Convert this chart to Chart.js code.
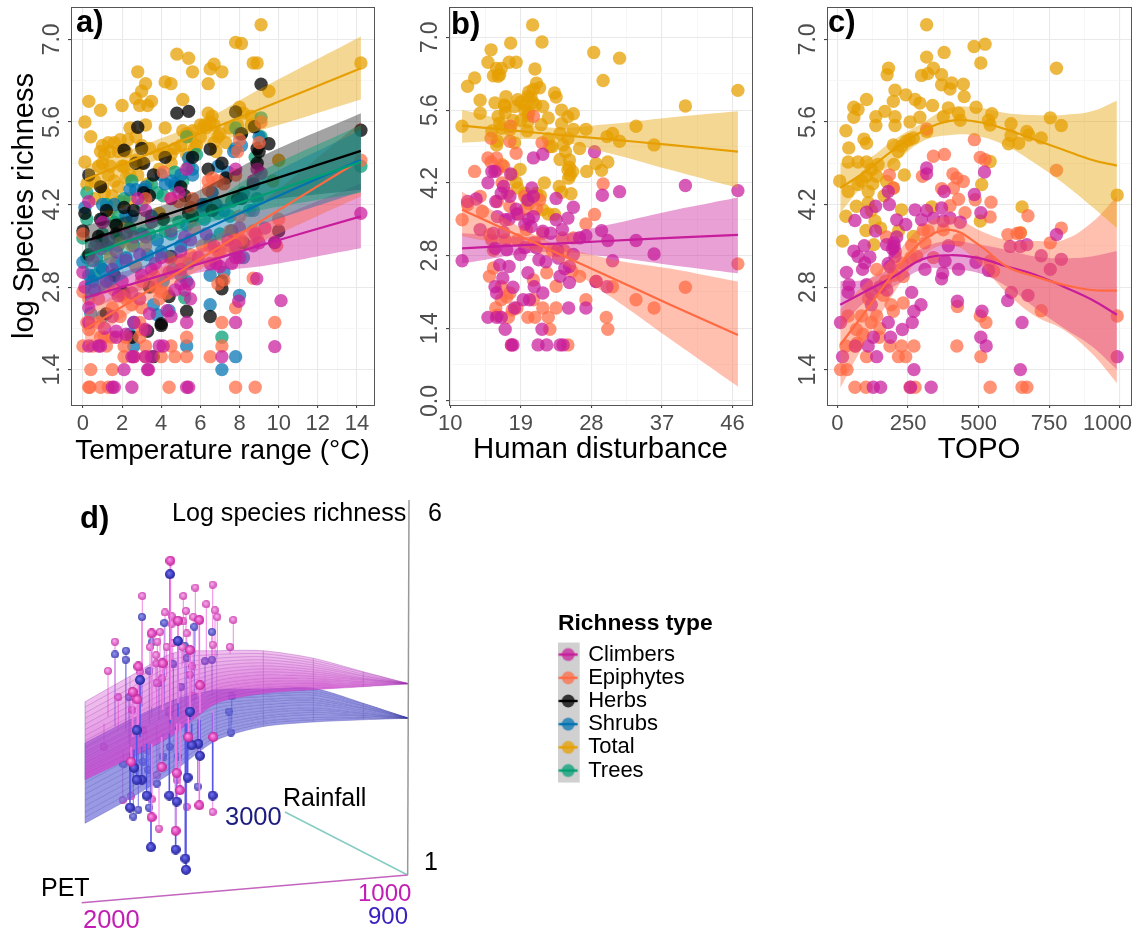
<!DOCTYPE html>
<html>
<head>
<meta charset="utf-8">
<title>Richness panels</title>
<script src="https://cdn.jsdelivr.net/npm/chart.js@4/dist/chart.umd.min.js"></script>
<style>
  html, body { margin: 0; padding: 0; background: #fff; }
  #page { position: relative; width: 1137px; height: 930px; overflow: hidden; }
  canvas { position: absolute; }
</style>
</head>
<body>
<div id="page">
  <canvas id="panelA" width="380" height="470" style="left:0;top:0"></canvas>
  <canvas id="panelB" width="375" height="470" style="left:385px;top:0"></canvas>
  <canvas id="panelC" width="375" height="470" style="left:762px;top:0"></canvas>
  <canvas id="panelD" width="420" height="440" style="left:30px;top:490px"></canvas>
  <canvas id="legendBox" width="160" height="190" style="left:558px;top:609px"></canvas>
</div>
<script>
// legend
const richnessTypes = ['Climbers', 'Epiphytes', 'Herbs', 'Shrubs', 'Total', 'Trees'];

// axis ticks
const yTicksAC = [1.4, 2.8, 4.2, 5.6, 7.0];
const yMinorAC = [2.1, 3.5, 4.9, 6.3];
const yTicksB = [0, 1.4, 2.8, 4.2, 5.6, 7.0];
const yMinorB = [0.7, 2.1, 3.5, 4.9, 6.3];
const xTicksA = [0, 2, 4, 6, 8, 10, 12, 14];
const xMinorA = [1, 3, 5, 7, 9, 11, 13];
const xTicksB = [10, 19, 28, 37, 46];
const xMinorB = [14.5, 23.5, 32.5, 41.5];
const xTicksC = [0, 250, 500, 750, 1000];
const xMinorC = [125, 375, 625, 875];

// panel a points [temperature range, log richness]
const totalA = [[9.1,7.25],[7.8,6.95],[8.1,6.93],[4.8,6.75],[5.4,6.68],[8.7,6.6],[8.9,6.6],[6.7,6.58],[6.5,6.5],[7.1,6.45],[5.6,6.45],[2.8,6.45],[3.2,6.25],[3.0,6.12],[2.7,6.0],[2.9,5.88],[3.3,5.88],[3.5,5.95],[4.2,6.28],[4.5,6.25],[6.4,6.25],[9.5,6.12],[5.1,5.98],[14.2,6.6],[0.3,5.95],[0.9,5.8],[2.0,5.88],[0.1,5.6],[0.4,5.35],[2.4,5.5],[2.7,5.35],[3.2,5.55],[4.2,5.5],[5.1,5.45],[5.5,5.35],[6.3,5.5],[6.6,5.7],[6.5,5.6],[7.0,5.4],[7.5,5.5],[8.2,5.75],[7.9,5.55],[8.6,5.55],[3.4,5.15],[1.1,5.05],[1.4,5.1],[1.8,5.1],[2.2,5.1],[0.8,4.85],[2.7,4.95],[1.0,4.5],[0.2,4.55],[1.5,4.35],[2.1,4.85],[1.8,4.5],[1.3,4.7],[2.8,4.7],[3.3,4.55],[3.9,4.8],[4.5,4.9],[5.3,5.05],[6.8,5.1],[7.3,5.25],[10.0,4.95],[9.7,4.6],[1.5,4.15],[0.6,4.3],[1.3,4.0],[2.2,3.9],[3.9,4.05],[5.0,5.2],[5.8,5.2],[6.0,5.35],[0.1,4.92],[0.9,5.1],[1.0,5.2],[1.3,5.25],[1.6,5.25],[1.9,5.3],[2.3,5.3],[1.0,4.9],[1.4,4.85],[2.0,4.85],[2.4,4.7],[1.6,4.6],[2.2,4.65],[0.6,4.6],[1.1,4.4],[1.9,4.25],[2.4,4.3],[3.0,5.2],[3.0,4.9],[4.1,5.15],[4.7,5.15],[5.3,5.4],[5.6,5.45],[6.0,5.55],[6.2,5.55],[6.7,5.55],[6.9,5.35],[5.7,5.15],[4.5,5.05],[3.9,5.05],[6.7,5.25],[8.6,5.7],[8.0,5.85],[6.4,5.75]];
const treesA = [[7.1,1.95],[5.2,2.62],[9.1,5.67],[9.1,5.35],[7.8,5.5],[8.1,5.4],[5.8,5.05],[5.3,5.35],[2.5,4.6],[0.2,4.4],[1.6,3.9],[1.8,4.0],[3.0,4.2],[14.2,4.85],[0.0,3.63],[0.2,3.3],[0.9,3.15],[5.5,4.15],[6.3,4.2],[7.5,4.0],[8.9,4.3],[8.5,4.1],[0.6,3.0],[4.5,3.7],[3.8,4.4],[4.7,4.5],[5.4,4.85],[1.0,3.7],[2.4,3.8],[6.5,3.6],[7.0,3.7],[0.7,3.55],[1.2,3.45],[1.9,3.6],[2.5,3.55],[3.4,3.7],[4.2,3.75],[4.9,3.9],[5.6,3.95],[6.2,3.95],[6.9,4.05],[7.6,4.25],[8.2,4.4],[8.8,5.0],[4.7,4.75],[3.5,4.55],[4.1,4.35],[5.1,4.6],[2.1,4.3],[1.2,4.2],[0.2,3.95]];
const shrubsA = [[8.0,2.66],[6.5,2.5],[7.8,1.62],[7.1,1.4],[5.3,1.8],[2.6,1.8],[2.4,2.0],[3.8,2.33],[4.4,2.4],[2.6,2.2],[0.4,2.35],[0.0,3.22],[0.5,2.9],[1.7,3.2],[3.0,3.7],[3.8,3.6],[4.5,3.3],[5.0,3.5],[5.3,3.85],[4.2,4.55],[4.5,4.6],[4.0,4.7],[5.4,4.99],[5.6,4.8],[2.7,4.45],[3.2,4.5],[6.1,4.2],[6.8,4.2],[7.8,5.15],[8.1,5.2],[8.0,5.4],[9.0,5.35],[0.1,4.15],[1.0,3.95],[2.5,4.0],[3.5,4.0],[7.2,4.1],[8.7,4.1],[7.8,3.4],[8.2,3.3],[6.5,3.0],[7.2,3.05],[1.2,3.5],[2.2,3.3],[5.4,3.2],[0.7,3.3],[1.0,3.1],[1.4,2.9],[1.8,3.5],[2.6,3.5],[3.3,3.35],[4.0,3.4],[4.6,3.1],[5.0,3.0],[5.3,2.9],[4.1,2.9],[3.6,2.5],[2.0,2.7],[0.3,3.0],[1.0,2.3],[6.1,4.1],[6.6,4.4],[6.9,4.85],[7.4,4.75],[7.7,5.1],[5.0,4.7],[5.6,4.7],[4.7,4.55],[3.1,4.45],[2.4,4.45],[1.0,4.2],[1.6,4.2],[2.2,4.0]];
const herbsA = [[14.2,5.46],[9.1,6.24],[9.5,5.23],[9.0,5.1],[8.76,5.52],[7.8,5.77],[8.1,5.4],[4.8,5.75],[5.4,5.78],[2.8,5.51],[2.1,5.12],[3.0,5.15],[2.7,4.9],[0.3,4.7],[0.9,4.5],[3.1,4.9],[3.6,4.7],[4.2,5.0],[5.6,5.0],[6.5,5.14],[6.4,4.8],[7.1,4.9],[7.3,4.65],[8.9,5.15],[8.9,4.9],[8.7,4.55],[5.0,4.5],[5.2,4.35],[7.9,4.3],[8.1,4.3],[3.4,4.35],[3.1,4.4],[2.1,4.15],[2.6,4.1],[1.2,4.1],[0.1,4.05],[0.9,3.95],[1.7,3.85],[1.7,3.7],[0.0,3.75],[1.0,3.6],[0.8,3.66],[4.1,3.95],[5.4,4.05],[5.6,4.0],[6.6,4.1],[9.8,3.55],[10.0,3.75],[7.6,3.75],[8.2,3.55],[0.3,3.35],[1.6,3.0],[4.5,3.32],[3.4,2.8],[7.1,2.9],[7.1,2.77],[4.4,2.64],[5.3,2.39],[6.5,2.3],[1.2,2.35],[4.0,2.15],[4.0,2.18],[2.5,1.95],[3.6,1.62],[3.3,2.05],[2.1,2.7]];
const epiphytesA = [[0.3,1.1],[0.35,1.1],[0.9,1.1],[1.3,1.1],[4.4,1.1],[7.8,1.1],[8.8,1.1],[0.4,1.4],[1.5,1.4],[2.1,1.62],[2.6,1.62],[3.2,1.62],[4.0,1.62],[4.7,1.62],[5.3,1.62],[6.5,1.62],[0.0,1.8],[0.5,1.8],[1.2,1.8],[2.1,1.8],[3.2,1.8],[4.5,1.8],[7.1,1.8],[0.9,1.95],[1.5,1.95],[2.9,1.95],[5.3,1.95],[0.2,2.2],[0.8,2.2],[2.9,2.2],[7.1,2.2],[9.8,2.2],[0.3,2.08],[3.0,2.08],[1.5,2.45],[7.8,2.45],[3.0,2.45],[0.3,2.6],[0.8,2.6],[2.2,2.6],[3.9,2.6],[0.0,2.72],[4.0,2.72],[7.2,2.92],[6.9,2.85],[2.5,3.5],[3.2,3.5],[7.5,3.5],[6.5,3.5],[0.0,3.7],[5.5,3.35],[7.0,3.4],[7.9,3.6],[8.9,3.65],[8.0,4.0],[6.4,4.6],[6.9,4.6],[6.6,4.65],[4.1,4.75],[4.5,4.3],[5.6,4.3],[3.2,4.3],[7.9,5.1],[8.0,5.3],[9.1,5.6],[9.0,5.25],[7.8,4.7],[10.0,3.95],[9.9,3.5],[8.7,2.95],[2.0,2.65],[1.4,3.3],[14.2,4.95],[1.9,2.3],[2.5,2.5],[3.0,2.9],[3.6,3.0],[4.4,3.3],[5.0,3.25],[6.1,3.5],[6.9,3.4],[7.5,3.75],[8.1,3.6],[8.7,3.75],[5.5,4.15],[6.4,4.45],[4.9,4.25],[7.2,4.55],[5.7,3.8],[3.7,2.8],[4.3,2.7],[1.1,2.8],[1.6,2.75],[1.9,3.55],[2.7,3.15],[1.1,1.95],[2.2,1.95]];
const climbersA = [[14.2,4.05],[10.12,2.57],[9.8,1.79],[9.8,3.56],[8.88,2.94],[8.7,3.5],[9.1,4.73],[7.96,2.56],[7.8,2.2],[7.1,1.62],[5.3,2.2],[5.3,1.1],[5.4,1.1],[2.5,1.1],[1.6,1.1],[1.5,1.1],[3.3,1.4],[3.35,1.4],[2.1,1.4],[2.5,1.62],[2.6,1.62],[3.2,1.62],[3.5,1.62],[0.8,1.8],[0.9,1.8],[3.9,1.8],[4.1,1.8],[0.3,1.8],[1.7,1.95],[3.2,2.08],[2.6,2.2],[0.3,2.2],[1.5,2.3],[0.3,2.45],[0.1,2.8],[0.0,3.05],[4.5,2.3],[5.2,2.75],[4.3,2.4],[5.5,2.6],[6.5,3.2],[6.8,3.2],[7.8,3.3],[8.0,3.3],[7.0,3.15],[7.8,3.5],[8.8,3.7],[9.3,3.8],[5.5,3.6],[5.0,3.4],[4.0,3.3],[3.0,3.0],[2.5,2.7],[2.0,2.9],[1.5,3.1],[0.6,3.5],[1.0,3.9],[0.3,4.25],[2.8,4.3],[3.2,4.1],[3.5,3.9],[5.3,4.8],[4.9,4.4],[4.5,4.3],[8.9,4.8],[8.7,4.6],[7.8,4.8],[0.5,3.25],[0.9,3.45],[1.3,3.6],[1.7,3.4],[2.2,3.7],[2.6,3.65],[3.2,3.65],[3.7,3.2],[4.5,3.75],[5.2,3.65],[5.9,3.3],[6.3,3.7],[6.7,3.5],[7.4,3.6],[7.6,3.2],[2.2,3.25],[2.9,3.35],[3.5,3.1],[4.4,3.05],[5.0,3.1],[1.2,2.9],[0.6,2.75],[1.8,2.65],[2.9,2.6],[3.4,2.35],[1.1,2.1],[1.7,2.05],[2.2,2.0],[5.0,2.85],[5.4,2.85],[4.7,2.75],[9.0,3.55],[8.0,3.8]];

// panel a fits, rows are [x, fit, low, high]
const totalFitA = [[0.1,4.62,4.4,4.85],[3,5.01,4.85,5.2],[6,5.41,5.2,5.6],[9,5.81,5.45,6.15],[14.2,6.51,5.98,7.05]];
const treesFitA = [[0.1,3.33,3.1,3.55],[3,3.66,3.5,3.85],[6,4,3.85,4.15],[9,4.34,4.1,4.75],[14.2,4.92,4.4,5.55]];
const shrubsFitA = [[0.1,2.84,2.55,3.15],[3,3.28,3.1,3.5],[6,3.74,3.5,3.95],[9,4.2,3.85,4.6],[14.2,4.96,4.42,5.47]];
const herbsFitA = [[0.1,3.58,3.3,3.85],[3,3.89,3.72,4.07],[6,4.22,4.05,4.45],[9,4.55,4.25,5.0],[14.2,5.11,4.45,5.75]];
const epiphytesFitA = [[0.1,2.08,1.8,2.35],[3,2.67,2.5,2.95],[6,3.28,3.1,3.5],[9,3.9,3.55,4.2],[14.2,4.96,4.34,5.6]];
const climbersFitA = [[0.1,2.62,2.4,2.9],[3,2.9,2.75,3.15],[6,3.2,3.05,3.45],[9,3.5,3.15,3.85],[14.2,4.0,3.46,4.56]];

// panel b points [human disturbance, log richness]
const totalB = [[20.5,7.24],[21.7,6.91],[17.7,6.89],[15.2,6.76],[28.3,6.71],[31.6,6.6],[14.8,6.52],[17.5,6.52],[18.4,6.52],[20.8,6.39],[13.1,6.22],[12.2,6.06],[29.5,6.17],[46.7,5.98],[40,5.68],[15.5,6.26],[16.3,6.28],[16.5,6.4],[15.9,6.4],[21,6.12],[20.6,6.0],[19.9,5.86],[21.4,6.03],[17.1,5.86],[13.8,5.79],[13.8,5.54],[15.7,5.74],[17,5.67],[18.6,5.8],[18.2,5.67],[19.5,5.6],[21.8,5.67],[23.3,5.93],[23.5,5.85],[24.2,5.6],[25.7,5.53],[25,5.47],[16.1,5.48],[16.3,5.35],[19.9,5.38],[22.5,5.45],[21.6,5.32],[24.2,5.34],[11.5,5.29],[17.6,5.22],[25.7,5.23],[27.3,5.23],[33.7,5.29],[30.7,5.15],[30,5.09],[36,4.93],[31.6,5],[15.9,4.93],[18.2,4.97],[22.7,4.9],[24.4,4.93],[26.5,4.86],[24.7,4.8],[25.2,4.64],[30.1,4.6],[28.6,4.57],[18.9,4.46],[25.2,4.5],[27.4,4.42],[29.3,4.44],[25.6,4.42],[25.1,4.29],[22,4.2],[18.4,4.21],[23.9,4.13],[24.2,4.02],[25.4,3.99],[21,4],[21.8,3.68],[23.3,3.59],[19.8,3.87],[19,5.4],[20,5.55],[20.9,5.7],[16.9,5.7],[19.5,5.7],[19.9,5.5],[20.3,5.85],[16.1,6.25],[17,5.55],[15.3,5.2],[18,5.4],[19,5.75],[20,5.95],[20.5,5.75],[22.5,5.05],[24,5.15],[25,5.05],[23,4.9],[24,4.65],[25,4.45],[25.3,4.35],[16,5.0],[16.6,4.55],[17.9,4.35],[18.6,4.1],[20,3.8],[21.5,3.95],[22.5,3.6],[19.5,4.0],[16.5,5.25],[19.8,5.2]];
const epiphytesB = [[20.6,5.48],[17.7,5.29],[15.2,5.06],[17.6,5],[18.4,4.77],[21.7,4.97],[14.8,4.68],[15.9,4.68],[16.8,4.52],[13.1,4.42],[29.5,4.18],[13.8,3.94],[12.2,3.78],[14.1,3.65],[11.5,3.49],[19.5,3.94],[21.4,3.87],[28.4,3.59],[27.3,3.41],[16,3.84],[17.6,3.75],[19.7,3.3],[21.8,3.23],[25.7,3.14],[15.3,3.1],[46.7,2.64],[40,2.19],[33.7,1.95],[36,1.79],[28.6,2.3],[30.7,2.2],[26.5,2.4],[22.3,2.47],[23.5,2.21],[15.5,2.56],[27.3,1.95],[29.9,1.61],[30.1,1.38],[21.8,1.79],[23.5,1.79],[15.8,1.79],[19.9,1.61],[20.8,1.61],[22.5,1.61],[17.4,1.61],[22.7,1.38],[25,1.08],[17.8,1.08],[20.6,1.95],[18.5,1.79],[16.5,1.95],[17.6,2.08],[20.6,2.33],[24.3,3.14],[15,2.4],[16,4.45],[15.2,4.6],[16.6,4.2],[17.3,4.0],[18.7,3.6],[19.6,3.7],[21,3.7],[15,3.2],[17,3.1],[18.6,3.1],[20.7,3.05],[23,2.9],[24.5,2.9],[25.5,2.5],[15.5,2.9],[16.5,2.2],[17.2,2.0],[17.9,1.75],[16,1.65]];
const climbersB = [[11.5,2.7],[46.7,4.05],[40,4.15],[33.7,3.09],[36,2.83],[31.6,4.03],[30.7,2.7],[30.1,3.09],[29.3,3.28],[29.4,3.96],[28.4,4.8],[27.3,3.18],[26.5,3.14],[25.7,3.73],[25,3.52],[25.7,2.82],[25.2,2.59],[25.2,2.28],[24,2.4],[25.1,1.79],[27.3,1.79],[28.6,2.3],[30,2.2],[23.5,3.9],[23.5,3.49],[24.3,3.3],[21.8,3.27],[22.8,3.23],[20.6,4.68],[21.8,4.75],[17.7,4.37],[15.3,4.42],[15.7,4.42],[14.8,4.2],[16.8,4.13],[17.6,3.94],[20.4,4.1],[20.6,3.94],[19.9,3.87],[12.2,3.84],[13.3,3.89],[15.8,3.84],[18.4,3.69],[20.6,3.55],[20.3,3.36],[17,3.49],[13.8,3.3],[15.5,3.23],[18.9,2.82],[17.2,2.91],[15.7,2.94],[16.3,2.62],[17.5,2.59],[16.7,2.37],[19.9,2.47],[15.7,2.2],[15.9,2.08],[18,2.19],[20.7,2.2],[21.8,2.08],[19.3,1.95],[20.1,1.95],[18.2,1.79],[14.8,1.61],[15.9,1.61],[17,1.38],[16.5,1.61],[21.7,1.38],[17.8,1.08],[21.2,1.08],[22.3,1.08],[24,1.08],[24.4,1.08],[18,1.08],[21.3,2.72],[22.2,2.68],[16.5,4.0],[18.5,3.6],[19.5,3.4],[20,3.5],[16.8,3.25],[16,3.55],[17.5,3.5],[23.7,2.9],[24.6,2.55],[23.8,2.75],[19.5,2.95],[21,2.95]];

// panel b fits
const totalFitB = [[11.5,5.3,4.97,5.6],[22,5.15,5.03,5.27],[30,5.04,4.78,5.33],[38,4.93,4.45,5.46],[46.7,4.8,4.1,5.58]];
const epiphytesFitB = [[11.5,3.68,3.17,4.03],[22,2.96,2.81,3.11],[30,2.41,2.05,2.75],[38,1.86,1.2,2.55],[46.7,1.27,0.28,2.3]];
const climbersFitB = [[11.5,2.94,2.65,3.23],[22,3.02,2.87,3.17],[30,3.08,2.78,3.39],[38,3.14,2.62,3.66],[46.7,3.2,2.46,3.92]];

// panel c points [TOPO, log richness]
const totalC = [[316,7.25],[484,6.88],[523,6.92],[316,6.7],[378,6.78],[508,6.6],[776,6.51],[181,6.51],[176,6.4],[340,6.51],[369,6.4],[298,6.39],[320,6.42],[405,6.26],[446,6.24],[369,6.23],[399,6.16],[204,6.14],[242,6.06],[103,5.98],[449,6.03],[275,5.98],[292,5.92],[198,5.95],[58,5.85],[73,5.81],[337,5.88],[393,5.84],[491,5.85],[547,5.74],[58,5.68],[168,5.78],[204,5.69],[136,5.69],[136,5.54],[204,5.54],[257,5.6],[292,5.68],[375,5.69],[429,5.75],[435,5.63],[535,5.63],[541,5.55],[615,5.57],[754,5.67],[793,5.54],[30,5.45],[94,5.31],[103,5.24],[40,5.16],[316,5.44],[671,5.44],[678,5.38],[615,5.37],[722,5.33],[642,5.24],[606,5.23],[198,5.21],[227,5.19],[242,5.27],[269,5.33],[38,4.92],[73,4.92],[103,4.92],[144,4.88],[200,4.88],[541,4.93],[8,4.6],[38,4.42],[73,4.54],[103,4.68],[109,4.42],[139,4.68],[174,4.59],[198,4.48],[237,4.7],[511,4.54],[991,4.36],[67,4.17],[109,4.23],[30,4],[654,4.16],[227,4.11],[334,4.16],[133,3.92],[101,3.76],[153,3.8],[216,3.75],[269,3.66],[18,3.58],[129,3.52],[506,3.92],[648,3.72],[215,5.1],[255,5.3],[120,4.8],[85,4.6],[125,4.55],[165,4.35],[120,4.1]];
const epiphytesC = [[316,5.48],[485,5.3],[776,4.78],[340,5.02],[379,5.05],[506,5],[523,4.96],[184,4.7],[301,4.68],[409,4.72],[423,4.65],[446,4.59],[198,4.48],[411,4.48],[369,4.47],[488,4.28],[429,4.29],[544,4.24],[399,4.18],[675,4.01],[541,3.99],[452,4.06],[793,3.8],[636,3.71],[604,3.69],[754,3.55],[304,3.77],[263,3.51],[174,3.65],[139,3.1],[281,3.32],[233,2.98],[162,2.66],[233,2.53],[198,2.39],[722,2.4],[425,2.47],[991,2.31],[506,2.31],[526,2.2],[38,2.31],[85,2.31],[139,2.31],[67,2.08],[148,1.95],[186,1.8],[30,1.8],[62,1.8],[271,1.8],[423,1.8],[227,1.8],[103,1.62],[216,1.62],[242,1.62],[508,1.62],[11,1.4],[34,1.4],[62,1.1],[101,1.1],[541,1.1],[654,1.1],[671,1.1],[275,1.1],[257,1.1],[541,3.24],[553,3.07],[648,3.72],[375,3.77],[322,3.75],[429,3.6],[230,3.2],[260,3.3],[200,3.0],[310,3.55],[340,3.3],[120,2.2],[150,2.1],[90,2.0],[70,1.85],[170,2.9],[190,2.5],[110,2.6]];
const climbersC = [[316,4.82],[316,4.72],[180,4.42],[378,4.42],[485,4.37],[521,4.75],[184,4.2],[103,4.07],[135,4.17],[62,3.93],[275,4.11],[316,4.1],[369,4.14],[508,4.06],[210,3.94],[242,3.86],[298,3.94],[340,3.97],[375,3.92],[399,3.97],[435,3.9],[135,3.75],[776,3.69],[95,3.5],[174,3.52],[201,3.49],[393,3.5],[58,3.41],[73,3.32],[115,3.31],[97,3.21],[89,3.1],[204,3.32],[186,3.15],[32,3.05],[671,3.52],[612,3.49],[648,3.49],[722,3.33],[793,3.27],[754,3.1],[429,3.1],[491,3.22],[535,3.08],[381,3.24],[373,3.04],[369,2.94],[310,3.1],[41,2.84],[38,2.71],[103,2.84],[263,2.71],[616,2.71],[675,2.66],[603,2.57],[296,2.5],[271,2.39],[425,2.56],[512,2.39],[11,2.2],[180,2.2],[265,2.2],[654,2.2],[230,2.08],[188,1.95],[508,1.95],[127,1.95],[527,1.8],[109,1.8],[64,1.8],[18,1.62],[139,1.62],[991,1.62],[271,1.4],[648,1.4],[127,1.1],[153,1.1],[259,1.1],[332,1.1],[205,3.4],[200,3.55],[195,3.45],[210,3.65],[150,2.8],[175,2.75],[180,3.2],[120,2.7],[120,2.5]];

// panel c fits
const totalFitC = [[10,4.48,4.06,4.9],[100,4.76,4.56,4.96],[200,5.13,4.9,5.3],[300,5.44,5.27,5.58],[400,5.62,5.38,5.84],[500,5.6,5.36,5.84],[600,5.47,5.19,5.75],[700,5.3,4.9,5.72],[800,5.13,4.56,5.72],[900,4.96,4.17,5.78],[990,4.86,3.8,5.96]];
const epiphytesFitC = [[10,1.82,1.09,2.42],[100,2.39,1.88,2.87],[200,3.04,2.7,3.32],[300,3.58,3.32,3.83],[400,3.77,3.52,4.0],[500,3.52,3.21,3.77],[600,3.15,2.7,3.6],[700,2.98,2.31,3.58],[800,2.84,2.08,3.6],[900,2.75,1.68,3.89],[990,2.74,1.17,4.34]];
const climbersFitC = [[10,2.5,2.08,2.9],[100,2.73,2.56,2.93],[200,2.98,2.81,3.15],[300,3.27,3.1,3.46],[400,3.34,3.1,3.58],[500,3.29,3.04,3.52],[600,3.15,2.81,3.43],[700,3.01,2.45,3.32],[800,2.81,2.11,3.29],[900,2.59,1.8,3.32],[990,2.33,1.4,3.41]];

// panel d surfaces, one shared column position list and rows of richness
const surfaceX = [16.5, 30, 43, 56, 70, 85, 100, 113.7];
const pinkSurface = [
  [3.31,3.65,3.96,3.99,3.99,3.89,3.71,3.55],
  [3.24,3.57,3.88,3.94,3.95,3.86,3.70,3.55],
  [3.16,3.49,3.80,3.89,3.91,3.83,3.68,3.55],
  [3.09,3.42,3.73,3.84,3.87,3.80,3.66,3.55],
  [3.01,3.34,3.65,3.79,3.83,3.77,3.65,3.55],
  [2.94,3.26,3.57,3.74,3.79,3.74,3.63,3.55],
  [2.86,3.18,3.49,3.69,3.75,3.71,3.62,3.55],
  [2.79,3.11,3.41,3.64,3.71,3.68,3.61,3.55],
  [2.71,3.03,3.33,3.59,3.67,3.65,3.60,3.55],
  [2.64,2.95,3.26,3.54,3.62,3.62,3.58,3.55],
  [2.57,2.87,3.18,3.49,3.58,3.59,3.57,3.55],
  [2.50,2.80,3.10,3.44,3.54,3.56,3.55,3.55],
  [2.42,2.72,3.02,3.39,3.50,3.53,3.54,3.55],
  [2.35,2.64,2.95,3.34,3.46,3.50,3.52,3.55],
  [2.27,2.56,2.87,3.29,3.42,3.47,3.51,3.55]
];
const blueSurface = [
  [2.76,3.07,3.33,3.47,3.48,3.49,3.29,3.09],
  [2.69,3.00,3.26,3.42,3.45,3.46,3.28,3.09],
  [2.61,2.92,3.19,3.37,3.41,3.43,3.26,3.09],
  [2.53,2.85,3.13,3.33,3.38,3.40,3.25,3.09],
  [2.45,2.77,3.06,3.28,3.34,3.36,3.23,3.09],
  [2.38,2.70,2.99,3.23,3.31,3.33,3.22,3.09],
  [2.30,2.62,2.92,3.18,3.27,3.30,3.20,3.09],
  [2.23,2.55,2.86,3.14,3.23,3.27,3.18,3.09],
  [2.15,2.47,2.79,3.09,3.19,3.23,3.16,3.09],
  [2.08,2.40,2.72,3.04,3.16,3.20,3.15,3.09],
  [2.00,2.32,2.65,2.99,3.12,3.17,3.13,3.09],
  [1.92,2.25,2.59,2.95,3.09,3.14,3.12,3.09],
  [1.84,2.17,2.52,2.90,3.05,3.10,3.10,3.09],
  [1.77,2.10,2.45,2.85,3.02,3.07,3.09,3.09],
  [1.69,2.02,2.38,2.80,2.98,3.04,3.07,3.09]
];

// panel d drop points [projected x, richness, richness where the stem ends]
const pinkFar = [[33.7,4.72,3.73],[46,4.72,3.99],[49.6,4.83,3.95],[54.8,4.87,3.95],[52.9,4.61,3.87],[55.5,4.53,3.91],[56.2,4.44,3.91],[61,4.4,4],[60,4.04,3.95],[54.8,4.07,3.91],[25.5,4.11,3.51],[23.4,3.72,3.11],[42.5,4.45,3.82],[46.8,4.52,3.82],[49,4.44,3.78],[46,4.38,3.82],[40.5,4.5,3.73],[39,4.24,3.64],[38.2,4.11,3.6],[36,4.04,3.56],[37.8,3.93,3.51],[41,4.04,3.64],[42.8,4.09,3.73],[45.6,4.04,3.78],[47,4.22,3.78],[42.5,4.35,3.78],[26.5,3.37,2.93],[37.8,3.82,3.47],[40,3.82,3.47],[33,3.71,3.38],[39.5,3.62,3.24],[38,3.56,3.24],[48.5,3.78,3.29],[48,3.67,3.24],[49,3.38,3.07],[30.7,3.2,2.8],[22.2,2.71,3.02],[34,2.93,2.67],[35,2.67,2.93],[38,2.33,3.02],[44,2.27,2.93],[27.8,2,2.67],[36.5,2.01,2.75],[38.7,1.62,2.84],[47,1.91,3.02],[54.8,1.84,3.11],[30.3,2.05,2.62],[42,3.2,2.84]];
const pinkNear = [[42.1,5.19,3.07],[44.4,4.39,3.29],[50.8,4.4,3.38],[36.5,4.22,3.24],[39.8,3.82,3.2],[32.5,3.78,3.02],[32.2,3.34,2.93],[30.8,3.44,2.84],[48,4,3.24],[51,3.53,3.16],[55,2.84,3.2],[47.5,2.84,3.11],[30.3,2.51,2.71],[39.5,2.44,2.84],[44,2.36,3.02],[45,2.13,3.02],[36.5,1.77,2.75],[43.7,1.59,2.93],[50.8,1.93,3.11]];
const blueFar = [[33.6,4.44,3.24],[40.3,4.36,3.29],[49.3,4.31,3.29],[54.6,4.24,3.47],[54.6,3.87,3.38],[52.5,3.85,3.42],[28.8,3.99,2.93],[25.5,3.94,2.98],[28.7,3.87,2.93],[36.5,4.1,3.11],[46.5,4.05,3.24],[47,3.89,3.2],[43,3.81,3.16],[35.8,3.72,3.02],[38.7,3.56,3.07],[29.7,3.37,2.75],[45.3,3.51,3.11],[41.8,3.16,2.93],[60.5,3.38,3.02],[59.7,3.18,2.93],[60.3,2.9,3.11],[28,2.48,2.62],[34,2.51,2.71],[35.5,2.4,2.75],[38,2.22,2.84],[42,2.71,2.93],[44.3,2.58,3.02],[40,2.58,2.89],[50.3,2.18,3.02],[32.5,1.87,2.67],[35.7,1.9,2.75],[31,1.78,2.62]];
const blueNear = [[42,5.01,3.02],[44.4,4.12,3.11],[33,3.6,2.84],[48,3.18,3.07],[32,2.93,2.62],[47.3,2.3,3.02],[41.8,2.06,2.89],[44,1.98,2.98],[30,1.9,2.62],[36.3,1.37,2.75],[43.7,1.34,2.98],[46.6,1.22,3.02],[46.8,1.07,3.02],[54.8,2.06,3.16],[35,2.06,2.75],[50.5,2.75,3.07],[48.5,2.73,3.02],[51,2.59,3.07],[33.5,2.27,2.71],[32,2.27,2.67],[31.2,2.43,2.67]];

// panel d box lines
const richnessAxis = [[113.7,6],[113.3,1]];
const petAxis = [[15.5,0.63],[113.3,1]];
const rainfallAxis = [[76.5,1.84],[113.3,1]];

const lineColor = { Climbers:'#C71C9B', Epiphytes:'#FF6A42', Herbs:'#000000', Shrubs:'#0072B2', Total:'#E69F00', Trees:'#009E73' };
const pointColor = { Climbers:'rgba(199,28,155,0.72)', Epiphytes:'rgba(255,106,66,0.72)', Herbs:'rgba(0,0,0,0.76)', Shrubs:'rgba(0,114,178,0.72)', Total:'rgba(230,159,0,0.74)', Trees:'rgba(0,158,115,0.72)' };
const bandColor = { Climbers:'rgba(199,28,155,0.42)', Epiphytes:'rgba(255,106,66,0.42)', Herbs:'rgba(0,0,0,0.36)', Shrubs:'rgba(0,114,178,0.42)', Total:'rgba(230,159,0,0.42)', Trees:'rgba(0,158,115,0.42)' };
const sansFont = '"Liberation Sans", Arial, sans-serif';

// first dataset in the list is painted last, so lines go first, points last
function panelDatasets(fits, points) {
  const lines = fits.map(([name, rows]) => ({
    data: rows.map(r => ({ x: r[0], y: r[1] })),
    showLine: true, borderColor: lineColor[name], borderWidth: 2.2, pointRadius: 0, tension: 0.4
  }));
  const bands = [];
  fits.forEach(([name, rows]) => {
    bands.push({
      data: rows.map(r => ({ x: r[0], y: r[3] })),
      showLine: true, borderWidth: 0, pointRadius: 0, tension: 0.4, fill: '+1', backgroundColor: bandColor[name]
    });
    bands.push({
      data: rows.map(r => ({ x: r[0], y: r[2] })),
      showLine: true, borderWidth: 0, pointRadius: 0, tension: 0.4
    });
  });
  const dots = points.map(([name, rows]) => ({
    data: rows, pointRadius: 6.7, pointBorderWidth: 0, pointBackgroundColor: pointColor[name], pointHoverRadius: 6.7
  }));
  return lines.concat(bands, dots);
}

// grey frame round the plot and the bold letter
function framePlugin(letter, x, y) {
  return {
    id: 'frame',
    afterDraw(chart) {
      const { ctx, chartArea: a } = chart;
      ctx.save();
      ctx.strokeStyle = '#555555';
      ctx.lineWidth = 1;
      ctx.strokeRect(a.left + 0.5, a.top + 0.5, a.right - a.left, a.bottom - a.top);
      ctx.fillStyle = '#000';
      ctx.font = 'bold 31px ' + sansFont;
      ctx.fillText(letter, x, y);
      ctx.restore();
    }
  };
}

function tickOptions(major, minor, labelOf, fontSize) {
  const all = major.concat(minor).sort((p, q) => p - q);
  const isMajor = v => major.includes(v);
  return {
    afterBuildTicks: s => { s.ticks = all.map(value => ({ value })); },
    grid: {
      color: c => isMajor(c.tick.value) ? '#e9e9e9' : '#f3f3f3',
      lineWidth: c => isMajor(c.tick.value) ? 1.1 : 0.7,
      tickColor: c => isMajor(c.tick.value) ? '#444444' : 'rgba(0,0,0,0)',
      tickLength: 3
    },
    border: { display: false },
    ticks: {
      autoSkip: false,
      color: '#4D4D4D',
      font: { family: sansFont, size: fontSize },
      callback: v => isMajor(v) ? labelOf(v) : ''
    }
  };
}

function drawPanel(id, cfg) {
  // trailing spaces pull the wide 1000 label left, as in the figure
  const xAxis = tickOptions(cfg.xTicks, cfg.xMinor, v => v === 1000 ? '1000    ' : String(v), 22);
  const yAxis = tickOptions(cfg.yTicks, cfg.yMinor, v => v.toFixed(1), 23);
  xAxis.type = 'linear';
  xAxis.min = cfg.xRange[0];
  xAxis.max = cfg.xRange[1];
  xAxis.ticks.maxRotation = 0;
  xAxis.ticks.padding = 3;
  xAxis.title = { display: true, text: cfg.xTitle, color: '#000', font: { family: sansFont, size: cfg.xTitleSize }, padding: { top: 0, bottom: 2 } };
  xAxis.afterFit = s => { s.height = 65; s.paddingLeft = 0; s.paddingRight = 0; };
  yAxis.type = 'linear';
  yAxis.min = cfg.yRange[0];
  yAxis.max = cfg.yRange[1];
  yAxis.ticks.minRotation = 90;
  yAxis.ticks.maxRotation = 90;
  yAxis.ticks.crossAlign = 'center';
  yAxis.ticks.padding = -1;
  if (cfg.yTitle) {
    yAxis.title = { display: true, text: cfg.yTitle, color: '#000', font: { family: sansFont, size: 29 }, padding: { top: 8, bottom: 0 } };
  }
  yAxis.afterFit = s => { s.width = cfg.yWidth; s.paddingTop = 0; s.paddingBottom = 0; };
  new Chart(document.getElementById(id), {
    type: 'scatter',
    data: { datasets: panelDatasets(cfg.fits, cfg.points) },
    options: {
      responsive: false,
      animation: false,
      events: [],
      layout: { autoPadding: false, padding: { top: 7, right: cfg.rightPad, left: 0, bottom: 0 } },
      scales: { x: xAxis, y: yAxis },
      plugins: { legend: { display: false }, tooltip: { enabled: false } }
    },
    plugins: [framePlugin(cfg.letter[0], cfg.letter[1], cfg.letter[2])]
  });
}

drawPanel('panelA', {
  letter: ['a)', 76, 32],
  xTicks: xTicksA, xMinor: xMinorA, yTicks: yTicksAC, yMinor: yMinorAC,
  xRange: [-0.61, 14.87], yRange: [0.8, 7.55],
  xTitle: 'Temperature range (°C)', xTitleSize: 28, yTitle: 'log Species richness',
  yWidth: 71, rightPad: 6,
  fits: [['Trees', treesFitA], ['Total', totalFitA], ['Shrubs', shrubsFitA], ['Herbs', herbsFitA], ['Epiphytes', epiphytesFitA], ['Climbers', climbersFitA]],
  points: [['Climbers', climbersA], ['Epiphytes', epiphytesA], ['Herbs', herbsA], ['Shrubs', shrubsA], ['Trees', treesA], ['Total', totalA]]
});

drawPanel('panelB', {
  letter: ['b)', 66, 34],
  xTicks: xTicksB, xMinor: xMinorB, yTicks: yTicksB, yMinor: yMinorB,
  xRange: [9.83, 48.5], yRange: [-0.077, 7.585],
  xTitle: 'Human disturbance', xTitleSize: 29.4,
  yWidth: 64, rightPad: 8,
  fits: [['Total', totalFitB], ['Epiphytes', epiphytesFitB], ['Climbers', climbersFitB]],
  points: [['Climbers', climbersB], ['Epiphytes', epiphytesB], ['Total', totalB]]
});

drawPanel('panelC', {
  letter: ['c)', 66, 32],
  xTicks: xTicksC, xMinor: xMinorC, yTicks: yTicksAC, yMinor: yMinorAC,
  xRange: [-37, 1040], yRange: [0.8, 7.55],
  xTitle: 'TOPO', xTitleSize: 29.4,
  yWidth: 65, rightPad: 6,
  fits: [['Total', totalFitC], ['Epiphytes', epiphytesFitC], ['Climbers', climbersFitC]],
  points: [['Climbers', climbersC], ['Epiphytes', epiphytesC], ['Total', totalC]]
});

// shaded ball used as the point style in panel d
function ball(radius, light, dark) {
  const c = document.createElement('canvas');
  c.width = c.height = radius * 2;
  const g = c.getContext('2d');
  const shade = g.createRadialGradient(radius * 0.8, radius * 0.75, 0.5, radius, radius, radius);
  shade.addColorStop(0, light);
  shade.addColorStop(1, dark);
  g.fillStyle = shade;
  g.beginPath();
  g.arc(radius, radius, radius, 0, Math.PI * 2);
  g.fill();
  return c;
}

function stemSet(rows, color, width) {
  const data = [];
  rows.forEach(r => {
    data.push({ x: r[0], y: r[1] }, { x: r[0], y: r[2] }, { x: r[0], y: NaN });
  });
  return { data, showLine: true, spanGaps: false, borderColor: color, borderWidth: width, pointRadius: 0 };
}

function ballSet(rows, style) {
  return { data: rows.map(r => ({ x: r[0], y: r[1] })), pointStyle: style, pointRadius: 4 };
}

function surfaceSets(rows, rgb, alphaTop, alphaBottom, stroke) {
  const sets = rows.map((row, i) => {
    const alpha = alphaTop + (alphaBottom - alphaTop) * i / (rows.length - 1);
    return {
      data: row.map((y, k) => ({ x: surfaceX[k], y })),
      showLine: true, borderColor: stroke, borderWidth: 0.7, pointRadius: 0, tension: 0.25,
      fill: i < rows.length - 1 ? '+1' : false, backgroundColor: 'rgba(' + rgb + ',' + alpha + ')'
    };
  });
  // columns come after the rows so the '+1' fills stay paired
  surfaceX.forEach((x, k) => {
    sets.push({
      data: rows.map(row => ({ x, y: row[k] })),
      showLine: true, borderColor: 'rgba(90,60,160,0.22)', borderWidth: 0.6, pointRadius: 0
    });
  });
  return sets;
}

function straight(points, color, width) {
  return { data: points.map(p => ({ x: p[0], y: p[1] })), showLine: true, borderColor: color, borderWidth: width, pointRadius: 0 };
}

const panelDLabels = [
  ['d)', 50, 38, '#000', 'bold 31px '],
  ['Log species richness', 142, 31, '#000', '25.1px '],
  ['6', 398, 31, '#000', '25px '],
  ['1', 394, 380, '#000', '25px '],
  ['Rainfall', 253, 316, '#000', '25px '],
  ['3000', 195, 335, '#1C1C80', '25.5px '],
  ['PET', 11, 406, '#000', '25px '],
  ['1000', 328, 411, '#C21EB4', '24px '],
  ['900', 338, 434, '#3A1FC0', '24px '],
  ['2000', 53, 438, '#C21EB4', '25.5px ']
];

new Chart(document.getElementById('panelD'), {
  type: 'scatter',
  data: {
    datasets: [
      straight(richnessAxis, '#999999', 1.5),
      straight(petAxis, '#C464BE', 1.5),
      straight(rainfallAxis, '#86CCC4', 1.5),
      ballSet(pinkNear, ball(5, '#ff8fe8', '#c0209a')),
      ballSet(blueNear, ball(5, '#6f6cf0', '#22229a')),
      stemSet(pinkNear, '#EF78E4', 1.6),
      stemSet(blueNear, '#5555E6', 1.6)
    ].concat(
      surfaceSets(pinkSurface, '208,70,205', 0.34, 0.8, 'rgba(150,40,170,0.45)'),
      surfaceSets(blueSurface, '105,105,215', 0.68, 0.68, 'rgba(50,50,150,0.5)'),
      [
        ballSet(pinkFar, ball(4, '#f6a8ea', '#d04ab4')),
        ballSet(blueFar, ball(4, '#8f8fe8', '#4a4ab8')),
        stemSet(pinkFar, '#F39BEA', 1.2),
        stemSet(blueFar, '#8C8CEC', 1.2)
      ]
    )
  },
  options: {
    responsive: false,
    animation: false,
    events: [],
    layout: { autoPadding: false, padding: 0 },
    scales: {
      x: { type: 'linear', display: false, min: 0, max: 126 },
      y: { type: 'linear', display: false, min: 0.267, max: 6.133 }
    },
    plugins: { legend: { display: false }, tooltip: { enabled: false } }
  },
  plugins: [{
    id: 'panelDText',
    afterDraw(chart) {
      const ctx = chart.ctx;
      ctx.save();
      panelDLabels.forEach(([text, x, y, color, font]) => {
        ctx.fillStyle = color;
        ctx.font = font + sansFont;
        ctx.fillText(text, x, y);
      });
      ctx.restore();
    }
  }]
});

// legend key: translucent disc with the fit line through it
function legendKey(name) {
  const c = document.createElement('canvas');
  c.width = 20;
  c.height = 20;
  const g = c.getContext('2d');
  g.fillStyle = pointColor[name];
  g.beginPath();
  g.arc(10, 10, 6.5, 0, Math.PI * 2);
  g.fill();
  g.strokeStyle = lineColor[name];
  g.lineWidth = 2.4;
  g.beginPath();
  g.moveTo(0.5, 10);
  g.lineTo(19.5, 10);
  g.stroke();
  return c;
}

new Chart(document.getElementById('legendBox'), {
  type: 'scatter',
  data: { datasets: [] },
  options: {
    responsive: false,
    animation: false,
    events: [],
    layout: { autoPadding: false },
    scales: { x: { display: false }, y: { display: false } },
    plugins: {
      tooltip: { enabled: false },
      legend: {
        position: 'top',
        align: 'start',
        maxHeight: 190,
        title: { display: true, text: 'Richness type', color: '#000', position: 'start', font: { family: sansFont, size: 22.8, weight: 'bold' }, padding: { top: 3, bottom: 3 } },
        labels: {
          usePointStyle: true,
          boxWidth: 18,
          color: '#000',
          padding: 1.2,
          font: { family: sansFont, size: 22 },
          generateLabels: () => richnessTypes.map(name => ({
            text: name, pointStyle: legendKey(name), lineWidth: 0, hidden: false, fontColor: '#000'
          }))
        }
      }
    }
  },
  plugins: [{
    id: 'keyBackground',
    beforeDraw(chart) {
      const hits = chart.legend.legendHitBoxes;
      if (!hits || !hits.length) return;
      const last = hits[hits.length - 1];
      chart.ctx.save();
      chart.ctx.fillStyle = '#D0D0D0';
      chart.ctx.fillRect(hits[0].left - 2.5, hits[0].top - 1, 23, last.top + last.height - hits[0].top + 2);
      chart.ctx.restore();
    }
  }]
});
</script>
</body>
</html>
